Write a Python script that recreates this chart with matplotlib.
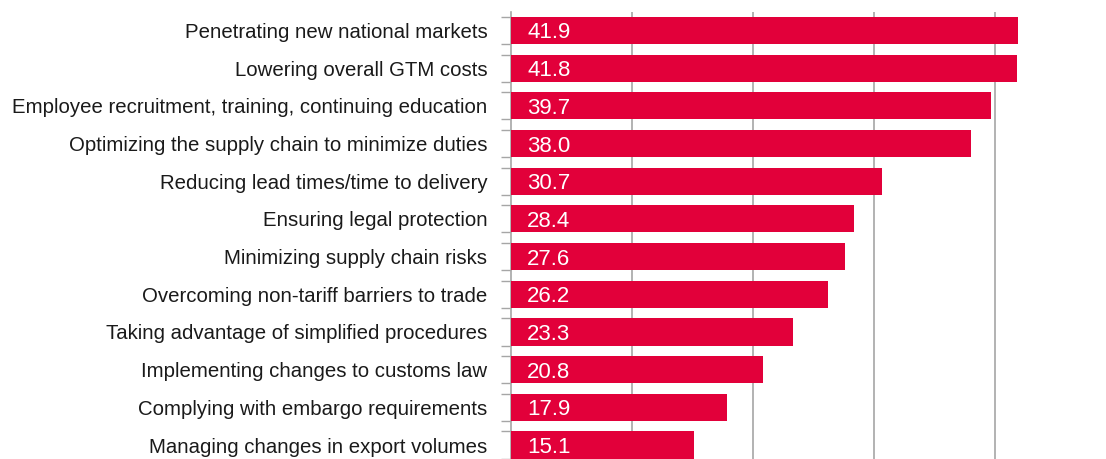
import matplotlib
matplotlib.use("Agg")
import matplotlib.pyplot as plt
import numpy as np

categories = [
    "Penetrating new national markets",
    "Lowering overall GTM costs",
    "Employee recruitment, training, continuing education",
    "Optimizing the supply chain to minimize duties",
    "Reducing lead times/time to delivery",
    "Ensuring legal protection",
    "Minimizing supply chain risks",
    "Overcoming non-tariff barriers to trade",
    "Taking advantage of simplified procedures",
    "Implementing changes to customs law",
    "Complying with embargo requirements",
    "Managing changes in export volumes",
]
values = [41.9, 41.8, 39.7, 38.0, 30.7, 28.4, 27.6, 26.2, 23.3, 20.8, 17.9, 15.1]
grid_ticks = [10, 20, 30, 40]

plt.rcParams["font.family"] = ["Liberation Sans", "DejaVu Sans"]

W, H = 1106, 459
fig = plt.figure(figsize=(W / 100, H / 100), dpi=100)
ax = fig.add_axes([511 / W, 0, (W - 511) / W, (459 - 12) / H])

bar_color = "#E2003A"
grid_color = "#A6A6A6"
bar_h = 0.72

y = np.arange(len(categories))
ax.barh(y, values, height=bar_h, color=bar_color, zorder=3)

for yi, v in zip(y, values):
    ax.text(1.35, yi, f"{v:.1f}", color="white", fontsize=16,
            va="center_baseline", ha="left", zorder=4)

ax.set_xlim(0, 49.2)
ax.set_ylim(11.37, -0.49)

ax.set_xticks(grid_ticks)
ax.tick_params(axis="x", length=0, labelbottom=False)
ax.grid(axis="x", color=grid_color, linewidth=1.2, zorder=0)

ax.set_yticks(y)
ax.set_yticklabels(categories, fontsize=14.7, color="#1a1a1a")
ax.tick_params(axis="y", which="major", length=0, pad=17)
edges = np.concatenate([y - bar_h / 2, y + bar_h / 2])
ax.set_yticks(edges, minor=True)
ax.tick_params(axis="y", which="minor", length=7, width=1, color=grid_color)

for s in ["top", "right", "bottom"]:
    ax.spines[s].set_visible(False)
ax.spines["left"].set_color(grid_color)
ax.spines["left"].set_linewidth(1.2)

fig.savefig("out.png", dpi=100)
